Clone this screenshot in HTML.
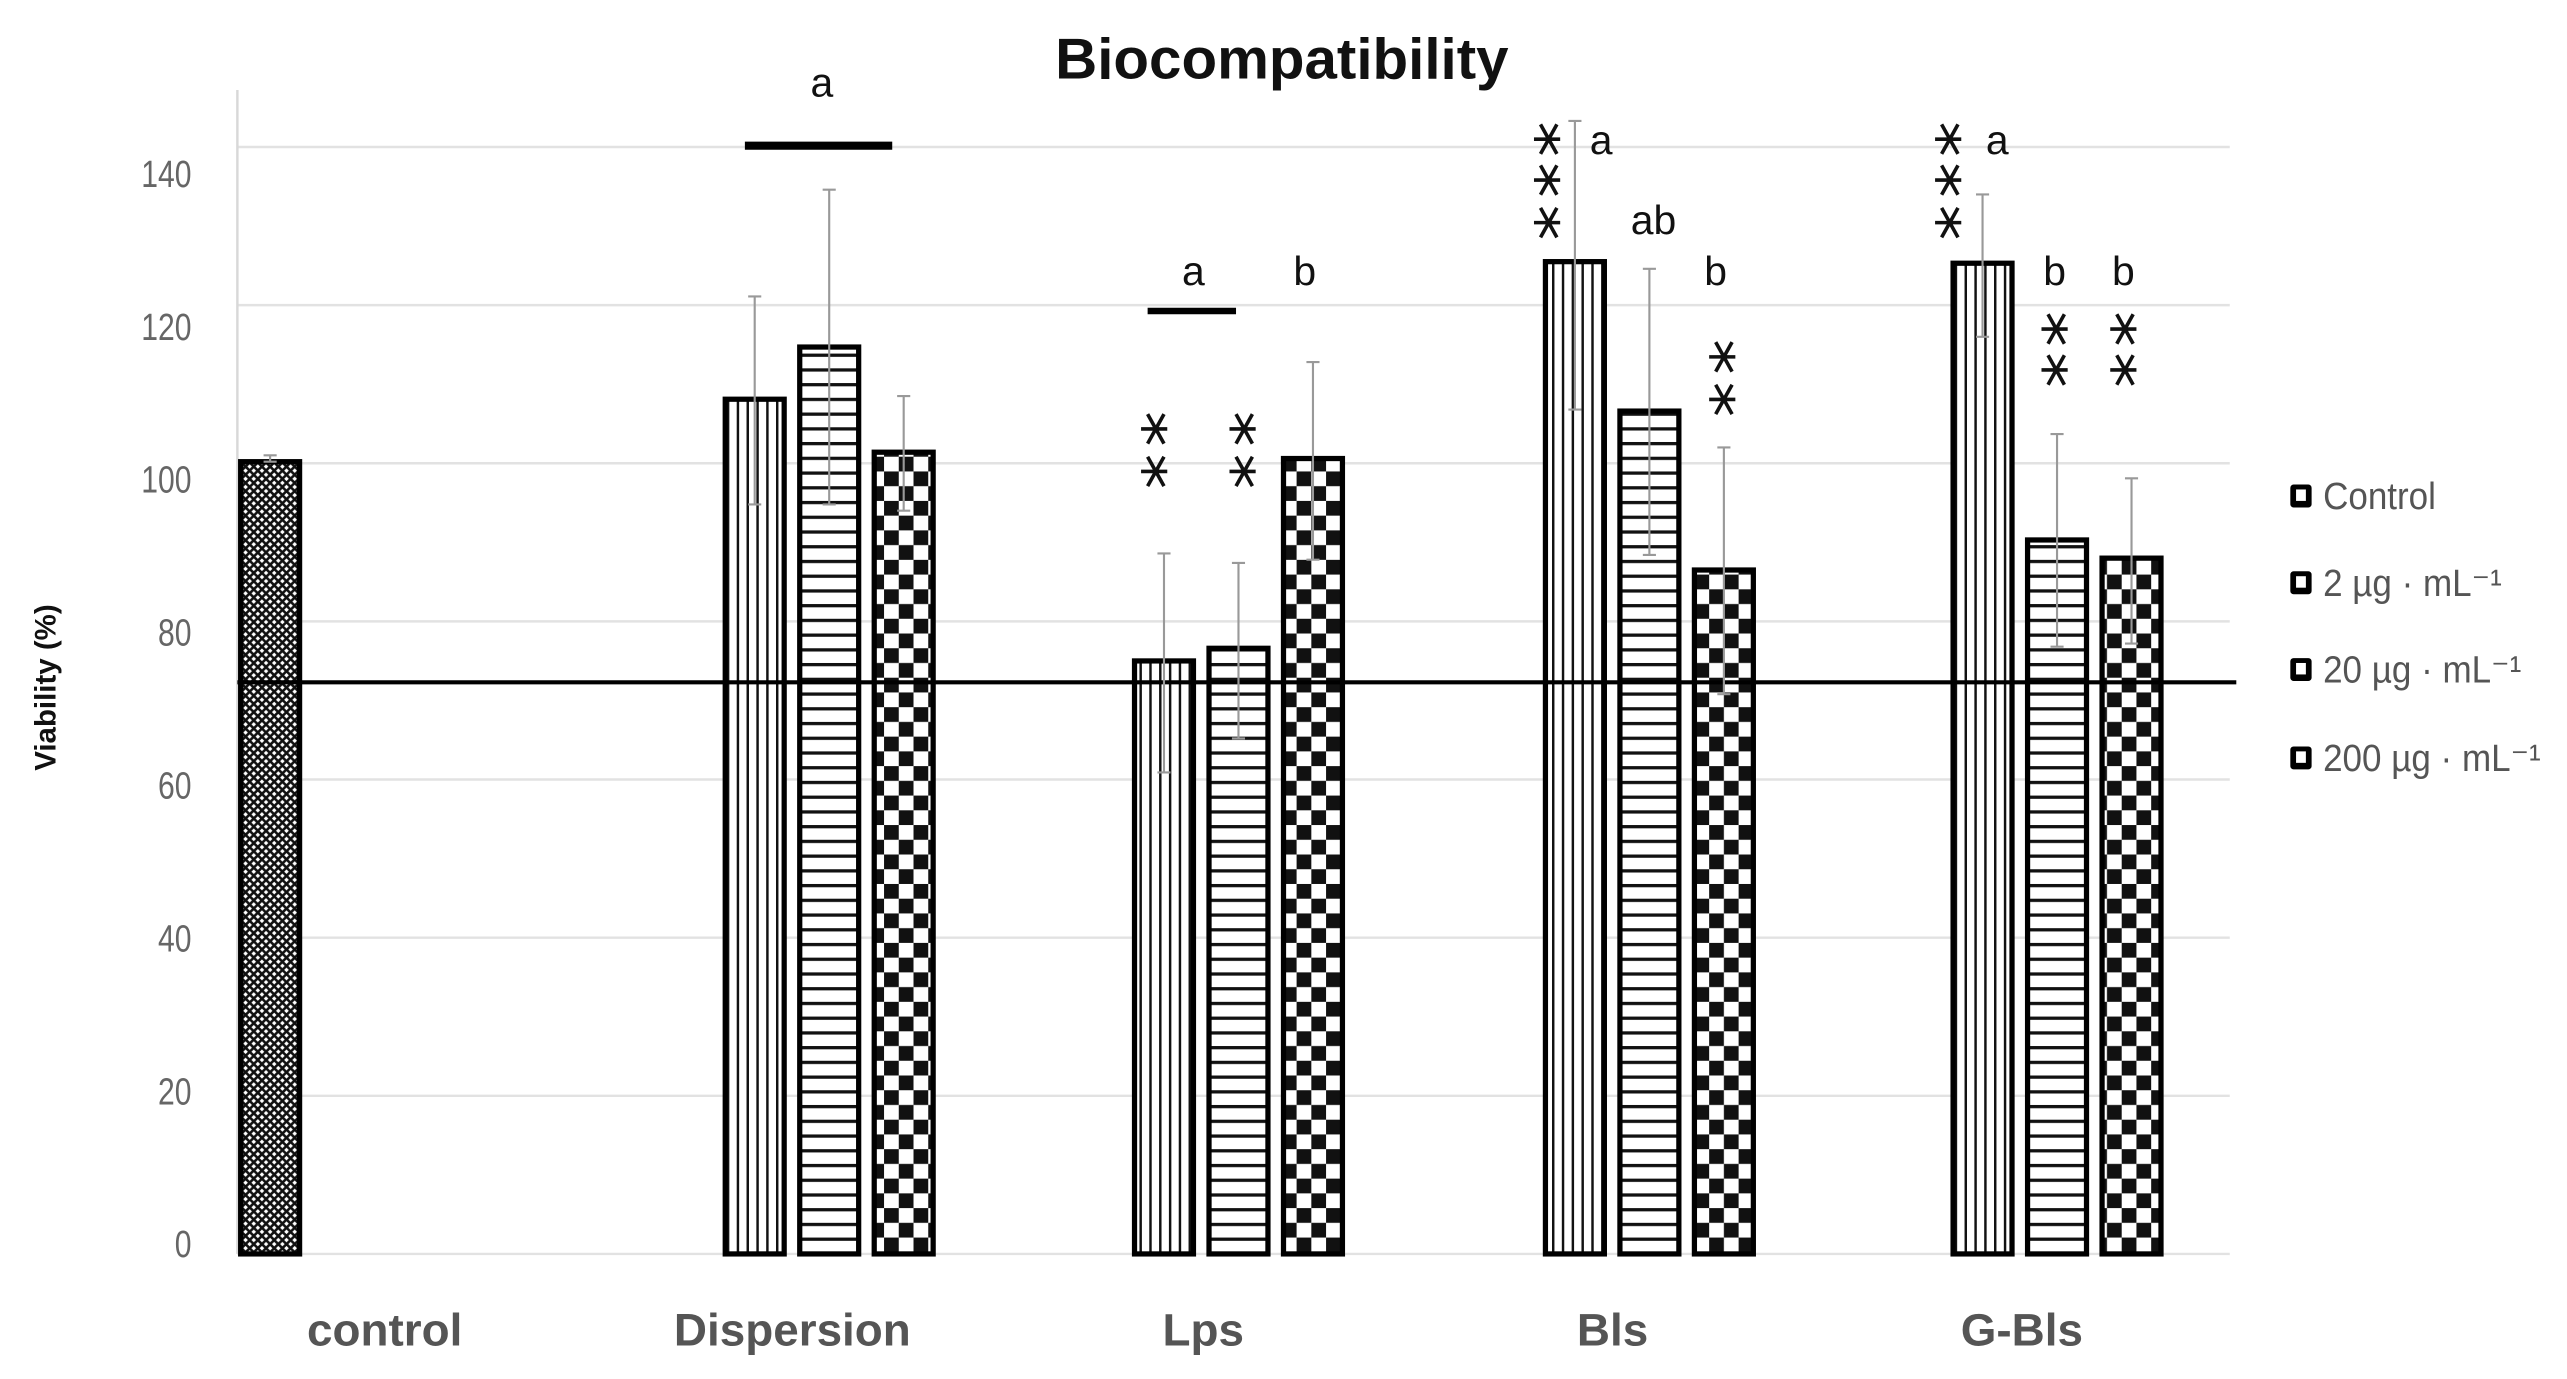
<!DOCTYPE html>
<html><head><meta charset="utf-8"><style>
html,body{margin:0;padding:0;background:#fff;}
svg{display:block;}
text{font-family:"Liberation Sans Narrow","Liberation Sans",sans-serif;}
</style></head><body>
<svg id="chart" width="2567" height="1379" viewBox="0 0 1568 842.4" preserveAspectRatio="none" xmlns="http://www.w3.org/2000/svg">
<defs>
<pattern id="p-control" width="5" height="5" patternUnits="userSpaceOnUse"><rect width="5" height="5" fill="#fff"/><path d="M0 0L5 5M5 0L0 5" stroke="#111" stroke-width="1.6"/></pattern>
<pattern id="p-vert" width="6" height="6" patternUnits="userSpaceOnUse"><rect width="6" height="6" fill="#fff"/><rect x="0" width="1.5" height="6" fill="#111"/></pattern>
<pattern id="p-horz" width="9" height="9" patternUnits="userSpaceOnUse"><rect width="9" height="9" fill="#fff"/><rect y="0" width="9" height="2" fill="#111"/></pattern>
<pattern id="p-check" width="18" height="18" patternUnits="userSpaceOnUse"><rect width="18" height="18" fill="#fff"/><rect width="9" height="9" fill="#111"/><rect x="9" y="9" width="9" height="9" fill="#111"/></pattern>
</defs>
<g id="grid"></g>
<g id="bars"></g>
<g id="errs"></g>
<g id="annots"></g>
<g id="labels"></g>
</svg>
<script>
const categories = ["control","Dispersion","Lps","Bls","G-Bls"];
const seriesNames = ["Control","2 µg · mL⁻¹","20 µg · mL⁻¹","200 µg · mL⁻¹"];
const controlValues = [100.2];
const s2Values = [null,108.1,75.0,125.5,125.3];
const s20Values = [null,114.7,76.6,106.6,90.3];
const s200Values = [null,101.4,100.6,86.5,88.0];
const controlErrHigh = [101.0];
const controlErrLow = [100.2];
const s2ErrHigh = [null,121.1,88.6,143.3,134.0];
const s2ErrLow = [null,94.8,60.9,106.8,116.0];
const s20ErrHigh = [null,134.6,87.4,124.6,103.7];
const s20ErrLow = [null,94.8,65.2,88.4,76.8];
const s200ErrHigh = [null,108.5,112.8,102.0,98.1];
const s200ErrLow = [null,94.0,87.8,70.8,77.2];
const yTicks = [0,20,40,60,80,100,120,140];
const gridValues = [0,20,40,60,80,100,120,140];
const thresholdValue = 72.3;

const NS = "http://www.w3.org/2000/svg";
function mk(tag, attrs, parent, txt){const e=document.createElementNS(NS,tag);for(const k in attrs)e.setAttribute(k,attrs[k]);if(txt!==undefined)e.textContent=txt;parent.appendChild(e);return e;}
const X0=145, X1=1362, Y0=766;
function y(v){return Y0 - v*4.83;}
function yLabel(v){return 760 - v*4.67;}
const groupStart=[147,443,693,944,1193];
function barX(g,s){return groupStart[g] + s*45.5;}
const BW=36;

const grid=document.getElementById('grid');
gridValues.forEach(v=>{
  const l=mk('line',{x1:X0,x2:X1,y1:y(v),y2:y(v),stroke:'#e2e2e2','stroke-width':1.5},grid);
  
  
});
const ax=mk('line',{x1:X0,x2:X0,y1:55,y2:Y0,stroke:'#d8d8d8','stroke-width':1.5},grid);



const labels=document.getElementById('labels');
yTicks.forEach(v=>{
  const t=mk('text',{x:117,y:yLabel(v)+8,'text-anchor':'end','font-size':23,fill:'#666',transform:`translate(117 0) scale(0.8 1) translate(-117 0)`},labels,String(v));
  
  
});
const title=mk('text',{x:783,y:48,'text-anchor':'middle','font-size':35,'font-weight':'bold',fill:'#111',textLength:277,lengthAdjust:'spacingAndGlyphs'},labels,'Biocompatibility');


const yt=mk('text',{x:0,y:0,'text-anchor':'middle','font-size':18,'font-weight':'bold',fill:'#111',transform:'translate(34,420) rotate(-90)'},labels,'Viability (%)');


const catCenters=[235,484,735,985,1235];
categories.forEach((c,i)=>{
  const t=mk('text',{x:catCenters[i],y:822,'text-anchor':'middle','font-size':28,'font-weight':'bold',fill:'#555'},labels,c);
  
  
});

const bars=document.getElementById('bars'), errs=document.getElementById('errs');
function drawBar(g,s,v,hi,lo,fill,name){
  if(v===null)return;
  const x=barX(g,s);
  const r=mk('rect',{x:x,y:y(v),width:BW,height:Y0-y(v),fill:fill,stroke:'#000','stroke-width':3.2},bars);
  
  
  const cx=x+BW/2;
  const e=mk('path',{d:`M${cx} ${y(hi)}V${y(lo)}M${cx-4} ${y(hi)}H${cx+4}M${cx-4} ${y(lo)}H${cx+4}`,stroke:'#999','stroke-width':1.3,fill:'none'},errs);
  
  
}
drawBar(0,0,controlValues[0],controlErrHigh[0],controlErrLow[0],'url(#p-control)','control');
for(let g=1;g<categories.length;g++){
  drawBar(g,0,s2Values[g],s2ErrHigh[g],s2ErrLow[g],'url(#p-vert)','2ug');
  drawBar(g,1,s20Values[g],s20ErrHigh[g],s20ErrLow[g],'url(#p-horz)','20ug');
  drawBar(g,2,s200Values[g],s200ErrHigh[g],s200ErrLow[g],'url(#p-check)','200ug');
}
const th=mk('line',{x1:X0,x2:1366,y1:y(thresholdValue),y2:y(thresholdValue),stroke:'#000','stroke-width':2.5},bars);



const an=document.getElementById('annots');
function letter(x,yy,s){const t=mk('text',{x:x,y:yy+9,'text-anchor':'middle','font-size':25,fill:'#111','font-family':'"Liberation Sans",sans-serif'},an,s);
  
  }
function star(x,yy){const p=mk('path',{d:`M${x-9} ${yy}H${x+7}M${x-5} ${yy-9}L${x+5} ${yy+9}M${x-5} ${yy+9}L${x+5} ${yy-9}`,stroke:'#111','stroke-width':2.2,fill:'none'},an);
  
  }
function bracket(x1,x2,yy,w){const l=mk('line',{x1:x1,x2:x2,y1:yy,y2:yy,stroke:'#000','stroke-width':w},an);
  
  }
bracket(455,545,89,5); letter(502,50,'a');
bracket(701,755,190,4); letter(729,165,'a'); letter(797,165,'b');
star(706,262);star(706,288);star(760,262);star(760,288);
star(946,85);star(946,110);star(946,136); letter(978,85,'a'); letter(1010,134,'ab'); letter(1048,165,'b');
star(1053,218);star(1053,244);
star(1191,85);star(1191,110);star(1191,136); letter(1220,85,'a');
letter(1255,165,'b'); star(1256,201); star(1256,226);
letter(1297,165,'b'); star(1298,201); star(1298,226);

const legendY=[303,356,409,463];
seriesNames.forEach((n,i)=>{
  const g=mk('g',{},labels);
  
  
  mk('rect',{x:1399,y:legendY[i]-7,width:13,height:14,fill:'#000',rx:2},g);
  mk('rect',{x:1402.5,y:legendY[i]-4,width:6,height:7,fill:'#fff'},g);
  mk('text',{x:1419,y:legendY[i]+8,'font-size':23,fill:'#555',transform:`translate(1419 0) scale(0.93 1) translate(-1419 0)`},g,n);
});
</script>
</body></html>
